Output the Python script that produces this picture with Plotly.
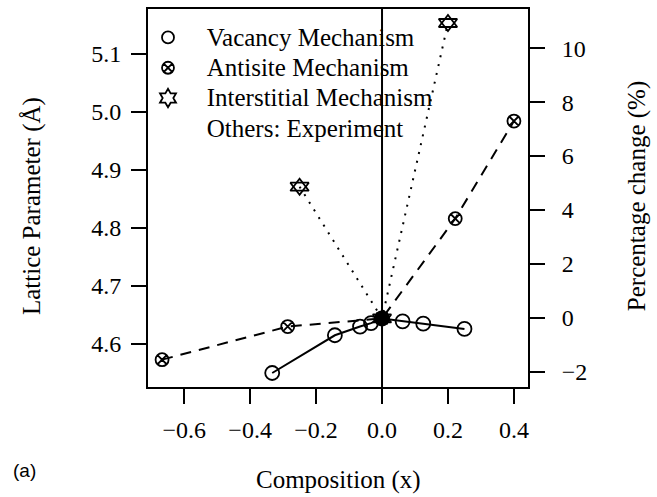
import plotly.graph_objects as go

# ---- data ----
vac_x = [-0.333, -0.143, -0.0667, -0.0333, 0.0, 0.0625, 0.125, 0.25]
vac_y = [4.550, 4.615, 4.630, 4.636, 4.644, 4.639, 4.635, 4.626]

anti_x = [-0.667, -0.286, 0.0, 0.222, 0.4]
anti_y = [4.573, 4.630, 4.644, 4.816, 4.984]

inter_x = [-0.25, 0.0, 0.2]
inter_y = [4.871, 4.644, 5.153]

exp_x = [0.0]
exp_y = [4.644]

a_ref = 4.645  # reference lattice parameter for percentage axis

x_ticks = [-0.6, -0.4, -0.2, 0.0, 0.2, 0.4]
y_ticks = [4.6, 4.7, 4.8, 4.9, 5.0, 5.1]
pct_ticks = [-2, 0, 2, 4, 6, 8, 10]

legend_names = ["Vacancy Mechanism", "Antisite Mechanism",
                "Interstitial Mechanism", "Others: Experiment"]

# R-like ranges (4% padding)
all_x = vac_x + anti_x + inter_x + exp_x
all_y = vac_y + anti_y + inter_y + exp_y
dx = (max(all_x) - min(all_x)) * 0.04
dy = (max(all_y) - min(all_y)) * 0.04
xr = [min(all_x) - dx, max(all_x) + dx]
yr = [min(all_y) - dy, max(all_y) + dy]
pr = [(v / a_ref - 1) * 100 for v in yr]

FONT = "Liberation Serif"
fig = go.Figure()

# lines
fig.add_trace(go.Scatter(x=inter_x, y=inter_y, mode="lines",
                         line=dict(color="black", width=2, dash="2px,7px"),
                         showlegend=False))
fig.add_trace(go.Scatter(x=anti_x, y=anti_y, mode="lines",
                         line=dict(color="black", width=2, dash="11px,8px"),
                         showlegend=False))
fig.add_trace(go.Scatter(x=vac_x, y=vac_y, mode="lines",
                         line=dict(color="black", width=2),
                         showlegend=False))
# markers
fig.add_trace(go.Scatter(x=vac_x, y=vac_y, mode="markers",
                         marker=dict(symbol="circle-open", size=14, color="black",
                                     line=dict(width=1.8, color="black")),
                         showlegend=False))
fig.add_trace(go.Scatter(x=anti_x, y=anti_y, mode="markers",
                         marker=dict(symbol="circle-x-open", size=13, color="black",
                                     line=dict(width=1.8, color="black")),
                         showlegend=False))
for sym in ["triangle-up-open", "triangle-down-open"]:
    fig.add_trace(go.Scatter(x=inter_x, y=inter_y, mode="markers",
                             marker=dict(symbol=sym, size=16, color="black",
                                         line=dict(width=1.8, color="black")),
                             showlegend=False))
fig.add_trace(go.Scatter(x=exp_x, y=exp_y, mode="markers",
                         marker=dict(symbol="square", size=12, color="black"),
                         showlegend=False))

# legend entries
pad = "\u00a0\u00a0\u00a0"
def lname(s):
    return '<span style="font-size:25px">' + pad + s + "</span>"

legend_markers = [
    dict(symbol="circle-open", size=12, color="black", line=dict(width=1.8, color="black")),
    dict(symbol="circle-x-open", size=12, color="black", line=dict(width=1.8, color="black")),
    dict(symbol="hexagram-open", size=14, color="black", line=dict(width=1.8, color="black")),
    dict(symbol="circle", size=1, color="rgba(0,0,0,0)"),
]
for nm, mk in zip(legend_names, legend_markers):
    fig.add_trace(go.Scatter(x=[None], y=[None], mode="markers", name=lname(nm), marker=mk))

# dummy trace to activate right axis
fig.add_trace(go.Scatter(x=[None], y=[None], yaxis="y2", mode="markers", showlegend=False))

fig.add_shape(type="line", x0=0, x1=0, xref="x", y0=0, y1=1, yref="paper",
              line=dict(color="black", width=2))

axis_common = dict(showgrid=False, zeroline=False, showline=True, linecolor="black",
                   linewidth=2, ticks="outside", ticklen=15, tickwidth=2,
                   tickcolor="black", tickfont=dict(family=FONT, size=24, color="black"))

fig.update_layout(
    width=657, height=497,
    margin=dict(l=148, r=129, t=7, b=110),
    plot_bgcolor="white", paper_bgcolor="white",
    xaxis=dict(range=xr, tickvals=x_ticks, tickformat=".1f", mirror=True,
               ticklabelstandoff=5, **axis_common),
    yaxis=dict(range=yr, tickvals=y_ticks, tickformat=".1f", mirror=False,
               ticklabelstandoff=5, **axis_common),
    yaxis2=dict(range=pr, tickvals=pct_ticks, overlaying="y", side="right",
                ticklabelstandoff=12, **axis_common),
    legend=dict(x=0.0, y=0.978, xanchor="left", yanchor="top",
                bgcolor="rgba(0,0,0,0)", font=dict(family=FONT, size=21, color="black"),
                tracegroupgap=0, itemwidth=30),
    font=dict(family=FONT, color="black"),
    annotations=[
        dict(text="Composition (x)", xref="paper", yref="paper", x=0.5, y=-0.247,
             xanchor="center", yanchor="middle", showarrow=False,
             font=dict(family=FONT, size=25, color="black")),
        dict(text="Lattice Parameter (Å)", xref="paper", yref="paper", x=-0.305, y=0.479,
             xanchor="center", yanchor="middle", showarrow=False, textangle=-90,
             font=dict(family=FONT, size=25, color="black")),
        dict(text="Percentage change (%)", xref="paper", yref="paper", x=1.287, y=0.505,
             xanchor="center", yanchor="middle", showarrow=False, textangle=-90,
             font=dict(family=FONT, size=25, color="black")),
        dict(text="(a)", xref="paper", yref="paper", x=-0.324, y=-0.221,
             xanchor="center", yanchor="middle", showarrow=False,
             font=dict(family="Liberation Sans", size=19, color="black")),
    ],
)

fig.write_html("out.html", config={"displayModeBar": False},
               post_script="document.body.style.margin='0px';")
